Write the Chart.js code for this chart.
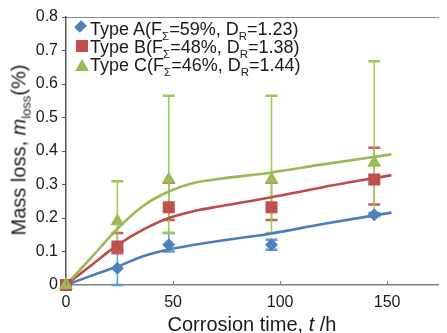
<!DOCTYPE html>
<html>
<head>
<meta charset="utf-8">
<title>Mass loss vs corrosion time</title>
<script src="https://cdn.jsdelivr.net/npm/chart.js@4.4.0/dist/chart.umd.min.js"></script>
<style>
  body { margin: 0; background: #fff; }
  #wrap { position: relative; width: 447px; height: 333px; overflow: hidden;
          font-family: 'Liberation Sans', Arial, sans-serif; color: #1a1a1a; }
  #chart { position: absolute; left: 0; top: 0; }
  .ytitle { position: absolute; left: 20px; top: 150px; font-size: 20px; line-height: 20px;
            white-space: nowrap; transform: translate(-50%, -50%) rotate(-90deg); }
  .xtitle { position: absolute; left: 252px; top: 314px; font-size: 20px; line-height: 20px;
            white-space: nowrap; transform: translateX(-50%); }
  .sub { font-size: 13px; position: relative; top: 5px; }
  .lsub { font-size: 11.5px; position: relative; top: 5px; }
  .row { position: absolute; left: 90px; font-size: 18px; line-height: 18px; white-space: nowrap; }
  .mk { position: absolute; }
</style>
</head>
<body>
<div id="wrap">
  <canvas id="chart" width="447" height="333"></canvas>
  <div class="ytitle">Mass loss, <i>m</i><span class="sub">loss</span>(%)</div>
  <div class="xtitle">Corrosion time, <i>t</i> /h</div>

  <!-- legend -->
  <div class="mk" style="left:76px;top:22px;width:9px;height:9px;background:#4f81bd;transform:rotate(45deg) scale(0.9,1.1);"></div>
  <div class="mk" style="left:76px;top:40px;width:12px;height:12px;background:#c0504d;"></div>
  <div class="mk" style="left:75px;top:59px;width:0;height:0;border-left:7px solid transparent;border-right:7px solid transparent;border-bottom:12px solid #9bbb59;"></div>
  <div class="row" style="top:20px">Type A(F<span class="lsub">&Sigma;</span>=59%, D<span class="lsub">R</span>=1.23)</div>
  <div class="row" style="top:38px">Type B(F<span class="lsub">&Sigma;</span>=48%, D<span class="lsub">R</span>=1.38)</div>
  <div class="row" style="top:56px">Type C(F<span class="lsub">&Sigma;</span>=46%, D<span class="lsub">R</span>=1.44)</div>
</div>

<script>
  // measured points (t in h, mass loss in %)
  const times = [0, 24, 48, 96, 144];
  const lossA = [0, 0.05, 0.12, 0.12, 0.21];
  const lossB = [0, 0.115, 0.232, 0.232, 0.315];
  const lossC = [0, 0.19, 0.315, 0.315, 0.365];

  // error bar ends
  const lowA = [0, 0, 0.1, 0.105, 0.205];
  const highA = [0, 0.105, 0.155, 0.135, 0.215];
  const lowB = [0, 0.095, 0.194, 0.194, 0.24];
  const highB = [0, 0.155, 0.305, 0.305, 0.41];
  const lowC = [0, 0.105, 0.155, 0.155, 0.205];
  const highC = [0, 0.31, 0.565, 0.565, 0.668];

  // fitted curves
  const fitTimes = [0, 12, 24, 36, 48, 60, 72, 96, 120, 152];
  const fitA = [0, 0.028, 0.055, 0.086, 0.106, 0.12, 0.132, 0.154, 0.182, 0.216];
  const fitB = [0, 0.06, 0.119, 0.165, 0.2, 0.221, 0.235, 0.262, 0.292, 0.328];
  const fitC = [0, 0.083, 0.168, 0.236, 0.279, 0.305, 0.317, 0.336, 0.36, 0.39];

  const xTicks = [0, 50, 100, 150];
  const yTicks = [0, 0.1, 0.2, 0.3, 0.4, 0.5, 0.6, 0.7, 0.8];

  const pts = (xs, ys) => xs.map((x, i) => ({ x: x, y: ys[i] }));

  const errSeries = [
    { low: lowA, high: highA, color: '#5b9bd5' },
    { low: lowB, high: highB, color: '#cc5a57' },
    { low: lowC, high: highC, color: '#97cd50' }
  ];

  // error bars drawn under the lines and markers
  const errorBars = {
    id: 'errorBars',
    beforeDatasetsDraw(chart) {
      const ctx = chart.ctx;
      const x = chart.scales.x, y = chart.scales.y;
      ctx.save();
      errSeries.forEach(s => {
        ctx.strokeStyle = s.color;
        times.forEach((t, i) => {
          if (s.low[i] === s.high[i]) return;
          const px = x.getPixelForValue(t);
          const y1 = y.getPixelForValue(s.low[i]);
          const y2 = y.getPixelForValue(s.high[i]);
          ctx.lineWidth = 1.5;
          ctx.beginPath();
          ctx.moveTo(px, y1);
          ctx.lineTo(px, y2);
          ctx.stroke();
          ctx.lineWidth = 2.5;
          ctx.beginPath();
          ctx.moveTo(px - 6, y1); ctx.lineTo(px + 6, y1);
          ctx.moveTo(px - 6, y2); ctx.lineTo(px + 6, y2);
          ctx.stroke();
        });
      });
      ctx.restore();
    },
    afterDraw(chart) {
      // short inward tick marks on the x axis
      const ctx = chart.ctx;
      const x = chart.scales.x;
      const b = chart.chartArea.bottom;
      ctx.save();
      ctx.strokeStyle = '#808080';
      ctx.lineWidth = 1;
      xTicks.forEach(v => {
        const px = Math.round(x.getPixelForValue(v)) + 0.5;
        ctx.beginPath();
        ctx.moveTo(px, b);
        ctx.lineTo(px, b - 4);
        ctx.stroke();
      });
      ctx.restore();
    }
  };

  Chart.defaults.font.family = "'Liberation Sans', Arial, sans-serif";
  Chart.defaults.color = '#1a1a1a';

  const ctx = document.getElementById('chart').getContext('2d');
  const myChart = new Chart(ctx, {
    type: 'scatter',
    data: {
      datasets: [
        { label: 'fit A', data: pts(fitTimes, fitA), showLine: true, cubicInterpolationMode: 'monotone',
          borderColor: '#4a7ebb', borderWidth: 2.6, pointRadius: 0, order: 12 },
        { label: 'fit B', data: pts(fitTimes, fitB), showLine: true, cubicInterpolationMode: 'monotone',
          borderColor: '#be4b48', borderWidth: 2.6, pointRadius: 0, order: 11 },
        { label: 'fit C', data: pts(fitTimes, fitC), showLine: true, cubicInterpolationMode: 'monotone',
          borderColor: '#98b954', borderWidth: 2.6, pointRadius: 0, order: 10 },
        { label: 'Type A', data: pts(times, lossA), pointStyle: 'rectRot', pointRadius: 6.5,
          backgroundColor: '#4f81bd', borderColor: '#4f81bd', borderWidth: 0, clip: false, order: 3 },
        { label: 'Type B', data: pts(times, lossB), pointStyle: 'rect', pointRadius: 8.5,
          backgroundColor: '#c0504d', borderColor: '#c0504d', borderWidth: 0, clip: false, order: 2 },
        { label: 'Type C', data: pts(times, lossC), pointStyle: 'triangle', pointRadius: 8,
          backgroundColor: '#9bbb59', borderColor: '#9bbb59', borderWidth: 0, clip: false, order: 1 }
      ]
    },
    options: {
      responsive: false,
      animation: false,
      layout: { padding: { top: 17, left: 0, right: 0, bottom: 0 } },
      plugins: { legend: { display: false }, tooltip: { enabled: false } },
      scales: {
        x: {
          type: 'linear', position: 'bottom', min: 0, max: 174,
          afterBuildTicks: s => { s.ticks = xTicks.map(v => ({ value: v })); },
          afterFit: s => { s.height = 48; },
          grid: { drawOnChartArea: false, drawTicks: false },
          border: { color: '#808080', width: 1.5 },
          ticks: { font: { size: 16 }, padding: 8, maxRotation: 0 }
        },
        xTop: {
          type: 'linear', position: 'top', min: 0, max: 174,
          afterFit: s => { s.height = 0; },
          grid: { drawOnChartArea: false, drawTicks: false },
          border: { color: '#8a8a8a', width: 1 },
          ticks: { display: false }
        },
        y: {
          min: 0, max: 0.8,
          afterBuildTicks: s => { s.ticks = yTicks.map(v => ({ value: v })); },
          afterFit: s => { s.width = 66; },
          grid: { drawOnChartArea: false, tickLength: 4, color: '#555' },
          border: { color: '#555', width: 1.5 },
          ticks: { font: { size: 16 }, padding: 4,
                   callback: v => v === 0 ? '0' : v.toFixed(1) }
        }
      }
    },
    plugins: [errorBars]
  });
</script>
</body>
</html>
